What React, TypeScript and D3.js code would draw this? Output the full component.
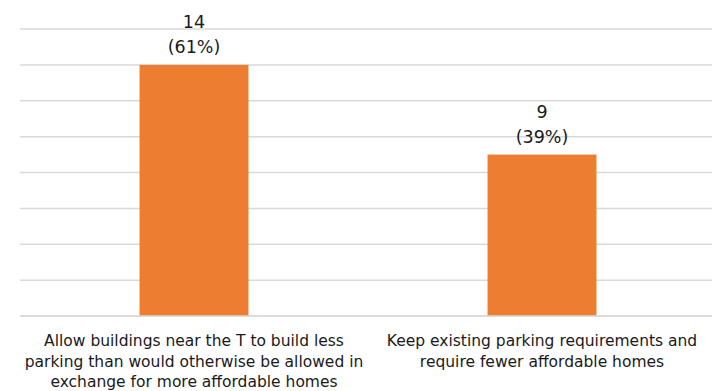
import React, { useRef, useEffect } from "react";
import * as d3 from "d3";

const categories = ["allow", "keep"];
const categoryLines = [
  [
    "Allow buildings near the T to build less",
    "parking than would otherwise be allowed in",
    "exchange for more affordable homes",
  ],
  ["Keep existing parking requirements and", "require fewer affordable homes"],
];
const counts = [14, 9];
const shares = ["61%", "39%"];
const gridTicks = [0, 2, 4, 6, 8, 10, 12, 14, 16];

const W = 712;
const H = 391;
const FONT = "'DejaVu Sans', sans-serif";

function App() {
  const ref = useRef<SVGSVGElement>(null);

  useEffect(() => {
    const svg = d3.select(ref.current);
    svg.selectAll("*").remove();

    const x = d3
      .scaleBand()
      .domain(categories)
      .range([20, 716])
      .paddingInner(0.687)
      .paddingOuter(0.3435);

    const y = d3.scaleLinear().domain([0, 16]).range([316, 29]);

    // gridlines
    svg
      .append("g")
      .selectAll("line")
      .data(gridTicks)
      .join("line")
      .attr("x1", 20)
      .attr("x2", W)
      .attr("y1", (d) => y(d))
      .attr("y2", (d) => y(d))
      .style("stroke", "#d9d9d9")
      .style("stroke-width", 1.5);

    // bars
    svg
      .append("g")
      .selectAll("rect")
      .data(counts)
      .join("rect")
      .attr("x", (d, i) => x(categories[i]))
      .attr("y", (d) => y(d))
      .attr("width", x.bandwidth())
      .attr("height", (d) => y(0) - y(d))
      .style("fill", "#ed7d31");

    // baseline
    svg
      .append("line")
      .attr("x1", 20)
      .attr("x2", W)
      .attr("y1", y(0))
      .attr("y2", y(0))
      .style("stroke", "#d9d9d9")
      .style("stroke-width", 1.5);

    // value labels
    const lbl = svg
      .append("g")
      .selectAll("text")
      .data(counts)
      .join("text")
      .attr("text-anchor", "middle")
      .attr("x", (d, i) => x(categories[i]) + x.bandwidth() / 2)
      .attr("y", (d) => y(d) - 37)
      .style("font-family", FONT)
      .style("font-size", "17.5px")
      .style("fill", "#1a1a1a");
    lbl.append("tspan").text((d) => d);
    lbl
      .append("tspan")
      .attr("x", (d, i) => x(categories[i]) + x.bandwidth() / 2)
      .attr("dy", 25)
      .text((d, i) => `(${shares[i]})`);

    // category labels
    const cat = svg
      .append("g")
      .selectAll("text")
      .data(categories)
      .join("text")
      .attr("text-anchor", "middle")
      .attr("y", 346)
      .style("font-family", FONT)
      .style("font-size", "15.5px")
      .style("fill", "#1a1a1a");
    cat
      .selectAll("tspan")
      .data((d, i) => categoryLines[i].map((t) => ({ t, c: d })))
      .join("tspan")
      .attr("x", (d) => x(d.c) + x.bandwidth() / 2)
      .attr("dy", (d, i) => (i === 0 ? 0 : 20.5))
      .text((d) => d.t);
  }, []);

  return (
    <svg
      ref={ref}
      width={W}
      height={H}
      style={{ position: "absolute", left: 0, top: 0, background: "#fff" }}
    ></svg>
  );
}

export default App;
